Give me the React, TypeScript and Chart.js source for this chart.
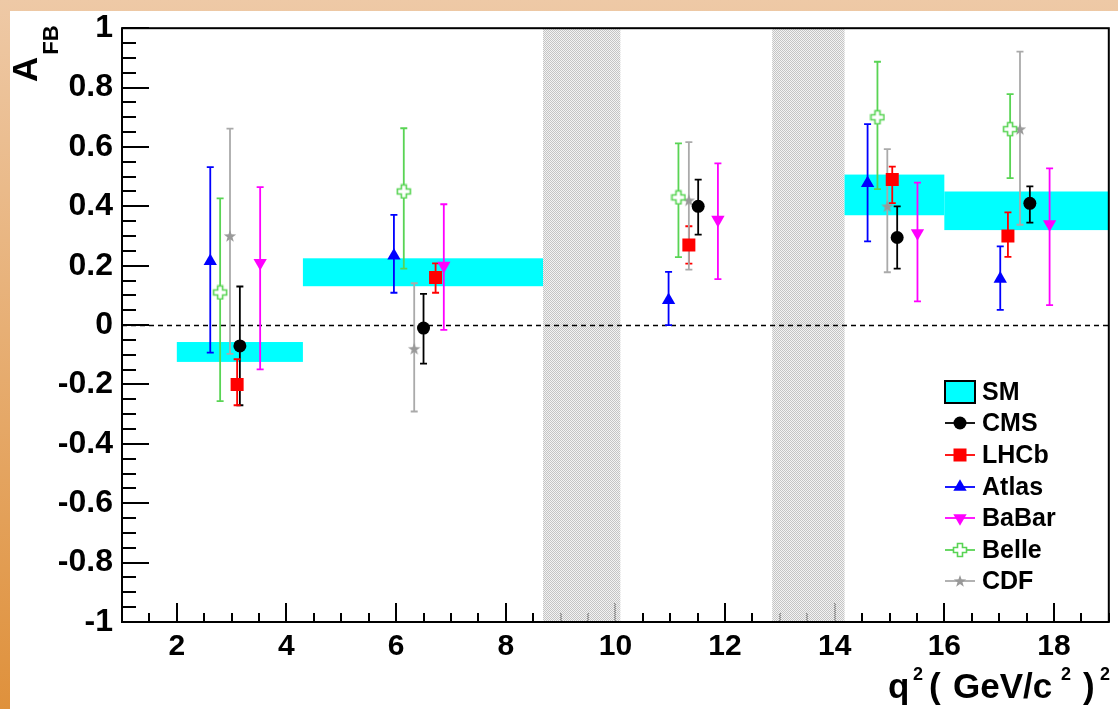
import React, { useEffect, useRef } from 'react';
import { Chart, registerables } from 'chart.js';
import { drawPoint } from 'chart.js/helpers';

Chart.register(...registerables);

// ---- axis ranges ----
const X_MIN = 1;
const X_MAX = 19;
const Y_MIN = -1;
const Y_MAX = 1;

// ---- Standard Model prediction bins ----
const smXLo = [2.0, 4.3, 14.18, 16.0];
const smXHi = [4.3, 8.68, 16.0, 19.0];
const smYLo = [-0.124, 0.131, 0.37, 0.32];
const smYHi = [-0.057, 0.225, 0.507, 0.45];

// ---- vetoed charmonium regions ----
const vetoLo = [8.68, 12.86];
const vetoHi = [10.09, 14.18];

// ---- measurements ----
const cmsX = [3.15, 6.5, 11.51, 15.14, 17.56];
const cmsY = [-0.07, -0.01, 0.4, 0.295, 0.41];
const cmsHi = [0.13, 0.105, 0.49, 0.4, 0.467];
const cmsLo = [-0.27, -0.13, 0.305, 0.19, 0.345];

const lhcbX = [3.1, 6.72, 11.34, 15.05, 17.16];
const lhcbY = [-0.2, 0.16, 0.27, 0.49, 0.3];
const lhcbHi = [-0.115, 0.208, 0.333, 0.534, 0.38];
const lhcbLo = [-0.27, 0.109, 0.207, 0.411, 0.23];

const atlasX = [2.61, 5.96, 10.97, 14.6, 17.02];
const atlasY = [0.215, 0.234, 0.084, 0.478, 0.156];
const atlasHi = [0.532, 0.371, 0.179, 0.677, 0.265];
const atlasLo = [-0.093, 0.109, 0.0, 0.282, 0.051];

const babarX = [3.52, 6.87, 11.87, 15.51, 17.92];
const babarY = [0.21, 0.2, 0.355, 0.31, 0.34];
const babarHi = [0.465, 0.407, 0.545, 0.48, 0.528];
const babarLo = [-0.149, -0.016, 0.155, 0.08, 0.067];

const belleX = [2.79, 6.14, 11.15, 14.78, 17.2];
const belleY = [0.11, 0.45, 0.43, 0.7, 0.66];
const belleHi = [0.427, 0.663, 0.612, 0.887, 0.778];
const belleLo = [-0.256, 0.19, 0.229, 0.458, 0.495];

const cdfX = [2.97, 6.33, 11.34, 14.96, 17.38];
const cdfY = [0.3, -0.08, 0.42, 0.4, 0.66];
const cdfHi = [0.662, 0.141, 0.616, 0.593, 0.921];
const cdfLo = [-0.097, -0.291, 0.187, 0.178, 0.338];

const FONT = '"Liberation Sans", Arial, Helvetica, sans-serif';

function makeCross(color: string): HTMLCanvasElement {
  const c = document.createElement('canvas');
  c.width = 16;
  c.height = 16;
  const g = c.getContext('2d')!;
  const m = 8, a = 2.5, b = 6.5;
  const pts = [
    [m - a, m - b], [m + a, m - b], [m + a, m - a], [m + b, m - a],
    [m + b, m + a], [m + a, m + a], [m + a, m + b], [m - a, m + b],
    [m - a, m + a], [m - b, m + a], [m - b, m - a], [m - a, m - a],
  ];
  g.beginPath();
  pts.forEach((p, i) => (i === 0 ? g.moveTo(p[0], p[1]) : g.lineTo(p[0], p[1])));
  g.closePath();
  g.fillStyle = '#ffffff';
  g.fill();
  g.lineWidth = 1.6;
  g.strokeStyle = color;
  g.stroke();
  return c;
}

function makeStar(color: string): HTMLCanvasElement {
  const c = document.createElement('canvas');
  c.width = 14;
  c.height = 14;
  const g = c.getContext('2d')!;
  const cx = 7, cy = 7.4, ro = 6.5, ri = 2.6;
  g.beginPath();
  for (let i = 0; i < 10; i++) {
    const r = i % 2 === 0 ? ro : ri;
    const ang = -Math.PI / 2 + (i * Math.PI) / 5;
    const px = cx + r * Math.cos(ang);
    const py = cy + r * Math.sin(ang);
    if (i === 0) g.moveTo(px, py);
    else g.lineTo(px, py);
  }
  g.closePath();
  g.fillStyle = color;
  g.fill();
  return c;
}

export default function App() {
  const ref = useRef<HTMLCanvasElement | null>(null);

  useEffect(() => {
    const canvas = ref.current;
    if (!canvas) return;

    const experiments: any[] = [
      { label: 'CMS', x: cmsX, y: cmsY, hi: cmsHi, lo: cmsLo, color: '#000000', bar: '#000000', style: 'circle', radius: 6.5, rotation: 0 },
      { label: 'LHCb', x: lhcbX, y: lhcbY, hi: lhcbHi, lo: lhcbLo, color: '#ff0000', bar: '#ff0000', style: 'rect', radius: 9.2, rotation: 0 },
      { label: 'Atlas', x: atlasX, y: atlasY, hi: atlasHi, lo: atlasLo, color: '#0000ff', bar: '#0000ff', style: 'triangle', radius: 7.7, rotation: 0 },
      { label: 'BaBar', x: babarX, y: babarY, hi: babarHi, lo: babarLo, color: '#ff00ff', bar: '#ff00ff', style: 'triangle', radius: 7.7, rotation: 180 },
      { label: 'Belle', x: belleX, y: belleY, hi: belleHi, lo: belleLo, color: '#59d454', bar: '#59d454', style: makeCross('#59d454'), radius: 6, rotation: 0 },
      { label: 'CDF', x: cdfX, y: cdfY, hi: cdfHi, lo: cdfLo, color: '#999999', bar: '#aaaaaa', style: makeStar('#999999'), radius: 6, rotation: 0 },
    ];

    const datasets = experiments.map((e) => ({
      label: e.label,
      data: e.x.map((xv: number, i: number) => ({ x: xv, y: e.y[i], hi: e.hi[i], lo: e.lo[i] })),
      pointStyle: e.style,
      pointRadius: e.radius,
      pointRotation: e.rotation,
      pointBackgroundColor: e.color,
      pointBorderColor: e.color,
      pointBorderWidth: 0,
      showLine: false,
      errColor: e.bar,
    }));

    const pat = document.createElement('canvas');
    pat.width = 2;
    pat.height = 2;
    const pg = pat.getContext('2d')!;
    pg.fillStyle = '#c4c4c4';
    pg.fillRect(0, 0, 1, 1);
    pg.fillRect(1, 1, 1, 1);
    pg.fillStyle = 'rgba(235,235,235,0.6)';
    pg.fillRect(1, 0, 1, 1);
    pg.fillRect(0, 1, 1, 1);

    const decor = {
      id: 'decor',
      beforeDraw(chart: any) {
        const ctx = chart.ctx;
        const W = chart.width, H = chart.height;
        ctx.save();
        const grad = ctx.createLinearGradient(0, 0, 0, H);
        grad.addColorStop(0, '#eec9a6');
        grad.addColorStop(1, '#df913c');
        ctx.fillStyle = grad;
        ctx.fillRect(0, 0, W, H);
        ctx.fillStyle = '#ffffff';
        ctx.fillRect(10, 11, W - 10, H - 11);
        ctx.restore();
      },
      beforeDatasetsDraw(chart: any) {
        const ctx = chart.ctx;
        const { left, right, top, bottom } = chart.chartArea;
        const xs = chart.scales.x;
        const ys = chart.scales.y;
        ctx.save();
        // ticks
        ctx.strokeStyle = '#000';
        ctx.lineWidth = 2;
        for (let i = -20; i <= 20; i++) {
          const v = i / 20;
          const py = Math.round(ys.getPixelForValue(v));
          const len = i % 4 === 0 ? 27 : 14;
          ctx.beginPath();
          ctx.moveTo(left, py);
          ctx.lineTo(left + len, py);
          ctx.stroke();
        }
        for (let i = 2; i <= 38; i++) {
          const v = i / 2;
          const px = Math.round(xs.getPixelForValue(v));
          const len = i % 4 === 0 ? 19 : 9;
          ctx.beginPath();
          ctx.moveTo(px, bottom);
          ctx.lineTo(px, bottom - len);
          ctx.stroke();
        }
        // veto bands
        ctx.fillStyle = ctx.createPattern(pat, 'repeat');
        for (let i = 0; i < vetoLo.length; i++) {
          const x0 = xs.getPixelForValue(vetoLo[i]);
          const x1 = xs.getPixelForValue(vetoHi[i]);
          ctx.fillRect(x0, top, x1 - x0, bottom - top);
        }
        // SM boxes
        ctx.fillStyle = '#00ffff';
        for (let i = 0; i < smXLo.length; i++) {
          const x0 = xs.getPixelForValue(smXLo[i]);
          const x1 = xs.getPixelForValue(smXHi[i]);
          const y0 = ys.getPixelForValue(smYHi[i]);
          const y1 = ys.getPixelForValue(smYLo[i]);
          ctx.fillRect(x0, y0, x1 - x0, y1 - y0);
        }
        // zero line
        const zy = Math.round(ys.getPixelForValue(0)) + 0.5;
        ctx.strokeStyle = '#000';
        ctx.lineWidth = 1.5;
        ctx.setLineDash([5, 4]);
        ctx.beginPath();
        ctx.moveTo(left, zy);
        ctx.lineTo(right, zy);
        ctx.stroke();
        ctx.setLineDash([]);
        // error bars
        chart.data.datasets.forEach((ds: any) => {
          ctx.strokeStyle = ds.errColor;
          ctx.lineWidth = 1.8;
          ds.data.forEach((d: any) => {
            const px = xs.getPixelForValue(d.x);
            const yh = ys.getPixelForValue(d.hi);
            const yl = ys.getPixelForValue(d.lo);
            ctx.beginPath();
            ctx.moveTo(px, yh);
            ctx.lineTo(px, yl);
            ctx.moveTo(px - 3.5, yh);
            ctx.lineTo(px + 3.5, yh);
            ctx.moveTo(px - 3.5, yl);
            ctx.lineTo(px + 3.5, yl);
            ctx.stroke();
          });
        });
        ctx.restore();
      },
      afterDatasetsDraw(chart: any) {
        const ctx = chart.ctx;
        const { left, right, top, bottom } = chart.chartArea;
        ctx.save();
        ctx.strokeStyle = '#000';
        ctx.lineWidth = 2;
        ctx.strokeRect(left, top, right - left, bottom - top);
        ctx.restore();
      },
      afterDraw(chart: any) {
        const ctx = chart.ctx;
        ctx.save();
        ctx.fillStyle = '#000';
        // legend
        const rows = [392, 423, 455, 487, 518, 550, 581];
        ctx.font = `bold 25px ${FONT}`;
        ctx.textBaseline = 'middle';
        ctx.textAlign = 'left';
        ctx.fillStyle = '#00ffff';
        ctx.fillRect(945, 381, 30, 22);
        ctx.strokeStyle = '#000';
        ctx.lineWidth = 2;
        ctx.strokeRect(945, 381, 30, 22);
        ctx.fillStyle = '#000';
        ctx.fillText('SM', 982, rows[0] + 1);
        chart.data.datasets.forEach((ds: any, i: number) => {
          const ry = rows[i + 1];
          ctx.strokeStyle = ds.errColor;
          ctx.lineWidth = 1.8;
          ctx.beginPath();
          ctx.moveTo(945, ry);
          ctx.lineTo(975, ry);
          ctx.stroke();
          ctx.fillStyle = ds.pointBackgroundColor;
          ctx.strokeStyle = ds.pointBorderColor;
          drawPoint(ctx, { pointStyle: ds.pointStyle, radius: ds.pointRadius, rotation: ds.pointRotation, borderWidth: 0 }, 960, ry);
          ctx.fillStyle = '#000';
          ctx.fillText(ds.label, 982, ry + 1);
        });
        // y title
        ctx.save();
        ctx.translate(37, 82);
        ctx.rotate(-Math.PI / 2);
        ctx.textBaseline = 'alphabetic';
        ctx.font = `bold 35px ${FONT}`;
        ctx.fillText('A', 0, 0);
        const aw = ctx.measureText('A').width;
        ctx.font = `bold 22px ${FONT}`;
        ctx.fillText('FB', aw + 2, 21);
        ctx.restore();
        // x title  q^2 ( GeV/c^2 )^2
        ctx.textBaseline = 'alphabetic';
        const parts: [string, number, number, number][] = [
          ['q', 35, 888, 698],
          ['2', 18, 913, 680],
          ['(', 35, 929, 698],
          ['GeV/c', 35, 953, 698],
          ['2', 18, 1061, 680],
          [')', 35, 1083, 698],
          ['2', 18, 1100, 680],
        ];
        parts.forEach(([t, s, px, py]) => {
          ctx.font = `bold ${s}px ${FONT}`;
          ctx.fillText(t, px, py);
        });
        ctx.restore();
      },
    };

    const chart = new Chart(canvas, {
      type: 'scatter',
      data: { datasets: datasets as any },
      options: {
        responsive: false,
        maintainAspectRatio: false,
        animation: false,
        layout: { padding: { top: 27, right: 8, left: 0, bottom: 0 } },
        plugins: { legend: { display: false }, tooltip: { enabled: false } },
        scales: {
          x: {
            type: 'linear',
            min: X_MIN,
            max: X_MAX,
            grid: { display: false, drawTicks: false },
            border: { display: false },
            ticks: {
              stepSize: 1,
              autoSkip: false,
              maxRotation: 0,
              padding: 7,
              color: '#000',
              font: { family: FONT, size: 30, weight: 'bold' },
              callback: (v: any) => {
                const n = Math.round(Number(v));
                return n % 2 === 0 ? String(n) : null;
              },
            },
            afterFit: (s: any) => {
              s.height = 87;
            },
          },
          y: {
            type: 'linear',
            min: Y_MIN,
            max: Y_MAX,
            grid: { display: false, drawTicks: false },
            border: { display: false },
            ticks: {
              stepSize: 0.2,
              autoSkip: false,
              padding: 9,
              color: '#000',
              font: { family: FONT, size: 32, weight: 'bold' },
              callback: (v: any) => {
                const r = Math.round(Number(v) * 10) / 10;
                return r === 0 ? '0' : String(r);
              },
            },
            afterFit: (s: any) => {
              s.width = 122;
            },
          },
        },
      },
      plugins: [decor],
    });

    return () => chart.destroy();
  }, []);

  return (
    <div style={{ position: 'fixed', left: 0, top: 0, width: 1118, height: 709 }}>
      <canvas ref={ref} width={1118} height={709} style={{ display: 'block', width: 1118, height: 709 }} />
    </div>
  );
}
